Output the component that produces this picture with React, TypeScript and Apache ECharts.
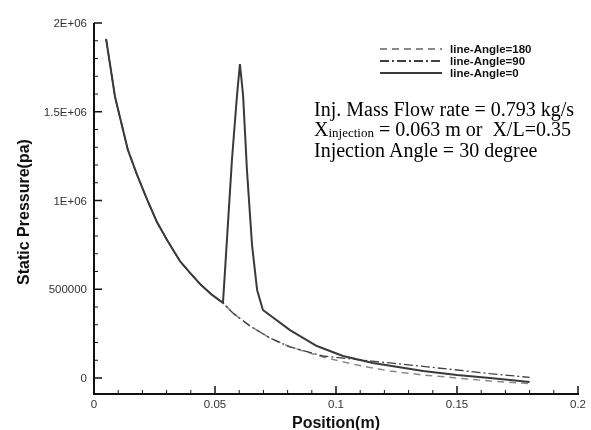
import React, { useEffect, useRef } from "react";
import * as echarts from "echarts";

// Shared upstream part (before injection point), positions in m, pressure in Pa
const commonX = [0.005, 0.0087, 0.014, 0.0178, 0.022, 0.026, 0.0302, 0.0355, 0.0397, 0.0438, 0.0488, 0.0533];
const commonP = [1910000, 1583000, 1285000, 1144000, 1003000, 879000, 777000, 659000, 592000, 530000, 468000, 423000];

// line-Angle=0 (solid) downstream part
const angle0X = [0.057, 0.0591, 0.0603, 0.0616, 0.0632, 0.0653, 0.0674, 0.0698, 0.081, 0.0921, 0.1029, 0.1153, 0.136, 0.15, 0.1636, 0.18];
const angle0P = [1228000, 1594000, 1769000, 1594000, 1172000, 749000, 496000, 383000, 270000, 180000, 124000, 85000, 39000, 17000, 0, -22500];

// line-Angle=180 (dashed) downstream part
const angle180X = [0.0574, 0.0645, 0.0727, 0.081, 0.0946, 0.1087, 0.1223, 0.136, 0.15, 0.1636, 0.18];
const angle180P = [366000, 293000, 225000, 175000, 118000, 73000, 39000, 17000, 0, -17000, -31000];

// line-Angle=90 (dash-dot) downstream part
const angle90X = [0.0574, 0.0645, 0.0727, 0.081, 0.0946, 0.1087, 0.1223, 0.136, 0.15, 0.1636, 0.18];
const angle90P = [366000, 293000, 225000, 175000, 124000, 104000, 85000, 65000, 45000, 25000, 3000];

const seriesNames = ["line-Angle=180", "line-Angle=90", "line-Angle=0"];
const yMajorTicks = [0, 500000, 1000000, 1500000, 2000000];
const yTickLabels: Record<number, string> = { 0: "0", 500000: "500000", 1000000: "1E+06", 1500000: "1.5E+06", 2000000: "2E+06" };
const xMajorTicks = [0, 0.05, 0.1, 0.15, 0.2];
const xTickLabels = ["0", "0.05", "0.1", "0.15", "0.2"];
const minorPerMajor = 5;
const yTitle = "Static Pressure(pa)";
const xTitle = "Position(m)";
const annotation = [
  "Inj. Mass Flow rate = 0.793 kg/s",
  "X",
  "injection",
  " = 0.063 m or  X/L=0.35",
  "Injection Angle = 30 degree",
];

const zip = (xs: number[], ps: number[]) => xs.map((x, i) => [x, ps[i]]);

export default function App() {
  const ref = useRef<HTMLDivElement>(null);
  useEffect(() => {
    document.body.style.margin = "0";
    const chart = echarts.init(ref.current!, null, { renderer: "svg" });
    const sans = '"Liberation Sans", Arial, sans-serif';
    const serif = '"Liberation Serif", "Times New Roman", serif';
    const ink = "#111";
    const d180 = zip(commonX, commonP).concat(zip(angle180X, angle180P));
    const d90 = zip(commonX, commonP).concat(zip(angle90X, angle90P));
    const d0 = zip(commonX, commonP).concat(zip(angle0X, angle0P));
    const gridLeft = 94;
    const gridBottomPx = 378; // y pixel of pressure 0
    const xAxisOffset = 16;

    // Axis frame + ticks (Tecplot style, ticks inside), positioned through the axes' scales
    const axisRenderItem = (params: any, api: any) => {
      const children: any[] = [];
      const c = (x: number, y: number) => api.coord([x, y]);
      const rect = (x: number, y: number, w: number, h: number) =>
        children.push({ type: "rect", shape: { x, y, width: w, height: h }, style: { fill: ink } });
      const origin = c(xMajorTicks[0], 0);
      const topPt = c(xMajorTicks[0], yMajorTicks[yMajorTicks.length - 1]);
      const rightPt = c(xMajorTicks[xMajorTicks.length - 1], 0);
      const x0 = origin[0];
      const yb = origin[1] + xAxisOffset;
      rect(x0 - 1, topPt[1], 2, yb - topPt[1] + 1);
      rect(x0 - 1, yb - 1, rightPt[0] - x0 + 2, 2);
      for (let i = 0; i < xMajorTicks.length; i++) {
        const v = xMajorTicks[i];
        rect(c(v, 0)[0] - 0.75, yb - 8, 1.5, 8);
        if (i < xMajorTicks.length - 1) {
          const step = (xMajorTicks[i + 1] - v) / minorPerMajor;
          for (let k = 1; k < minorPerMajor; k++) rect(c(v + step * k, 0)[0] - 0.5, yb - 4, 1, 4);
        }
      }
      for (let i = 0; i < yMajorTicks.length; i++) {
        const v = yMajorTicks[i];
        rect(x0, c(0, v)[1] - 0.75, 8, 1.5);
        if (i < yMajorTicks.length - 1) {
          const step = (yMajorTicks[i + 1] - v) / minorPerMajor;
          for (let k = 1; k < minorPerMajor; k++) rect(x0, c(0, v + step * k)[1] - 0.5, 4, 1);
        }
      }
      return { type: "group", children };
    };

    chart.setOption({
      animation: false,
      grid: { left: gridLeft, right: 13, top: 23, bottom: 430 - gridBottomPx, outerBoundsMode: "none", containLabel: false },
      legend: {
        data: seriesNames,
        orient: "vertical",
        left: 374,
        top: 38,
        itemWidth: 62,
        itemHeight: 12,
        itemGap: 0,
        itemStyle: { opacity: 0 },
        textStyle: { fontFamily: sans, fontWeight: "bold", fontSize: 11.5, lineHeight: 12, color: ink, padding: [0, 0, 0, 3] },
      },
      xAxis: {
        type: "value",
        min: 0,
        max: 0.2,
        interval: 0.05,
        offset: xAxisOffset,
        axisLine: { show: false, onZero: false },
        axisTick: { show: false },
        minorTick: { show: false },
        splitLine: { show: false },
        minorSplitLine: { show: false },
        axisLabel: {
          show: true,
          margin: 4,
          fontFamily: sans,
          fontSize: 11.5,
          color: "#333",
          formatter: (v: number) => xTickLabels[xMajorTicks.indexOf(v)] ?? "",
        },
        name: xTitle,
        nameLocation: "middle",
        nameGap: 12,
        nameTextStyle: { fontFamily: sans, fontWeight: "bold", fontSize: 16, color: ink, verticalAlign: "top" },
      },
      yAxis: {
        type: "value",
        min: 0,
        max: 2000000,
        interval: 500000,
        axisLine: { show: false, onZero: false },
        axisTick: { show: false },
        minorTick: { show: false },
        splitLine: { show: false },
        minorSplitLine: { show: false },
        axisLabel: {
          show: true,
          margin: 7,
          fontFamily: sans,
          fontSize: 11.5,
          color: "#333",
          formatter: (v: number) => yTickLabels[v] ?? "",
        },
      },
      series: [
        {
          name: "axes",
          type: "custom",
          data: [[0, 0]],
          clip: false,
          silent: true,
          z: 5,
          renderItem: axisRenderItem,
        },
        {
          name: seriesNames[0],
          type: "line",
          data: d180,
          clip: false,
          showSymbol: false,
          symbol: "none",
          lineStyle: { color: "#8a8a8a", width: 1.5, type: [7, 5] },
          itemStyle: { color: "#8a8a8a" },
        },
        {
          name: seriesNames[1],
          type: "line",
          data: d90,
          clip: false,
          showSymbol: false,
          symbol: "none",
          lineStyle: { color: "#404040", width: 1.3, type: [9, 3, 2, 3] },
          itemStyle: { color: "#404040" },
        },
        {
          name: seriesNames[2],
          type: "line",
          data: d0,
          clip: false,
          showSymbol: false,
          symbol: "none",
          lineStyle: { color: "#3a3a3a", width: 2 },
          itemStyle: { color: "#3a3a3a" },
        },
      ],
      graphic: {
        elements: [
          {
            type: "text",
            x: 23,
            y: 212,
            rotation: Math.PI / 2,
            style: { text: yTitle, fontFamily: sans, fontWeight: "bold", fontSize: 16, fill: ink, align: "center", verticalAlign: "middle" },
          },
          {
            type: "text",
            x: 314,
            y: 98,
            style: {
              text:
                "{a|" + annotation[0] + "}\n{a|" + annotation[1] + "}{b|" + annotation[2] + "}{a|" + annotation[3] + "}\n{a|" + annotation[4] + "}",
              verticalAlign: "top",
              rich: {
                a: { fontFamily: serif, fontSize: 20, fill: "#000", lineHeight: 20.5, verticalAlign: "bottom" },
                b: { fontFamily: serif, fontSize: 13, fill: "#000", lineHeight: 20.5, verticalAlign: "bottom" },
              },
            },
          },
        ],
      },
    });

    return () => chart.dispose();
  }, []);
  return <div ref={ref} style={{ position: "fixed", left: 0, top: 0, width: 591, height: 430 }} />;
}
